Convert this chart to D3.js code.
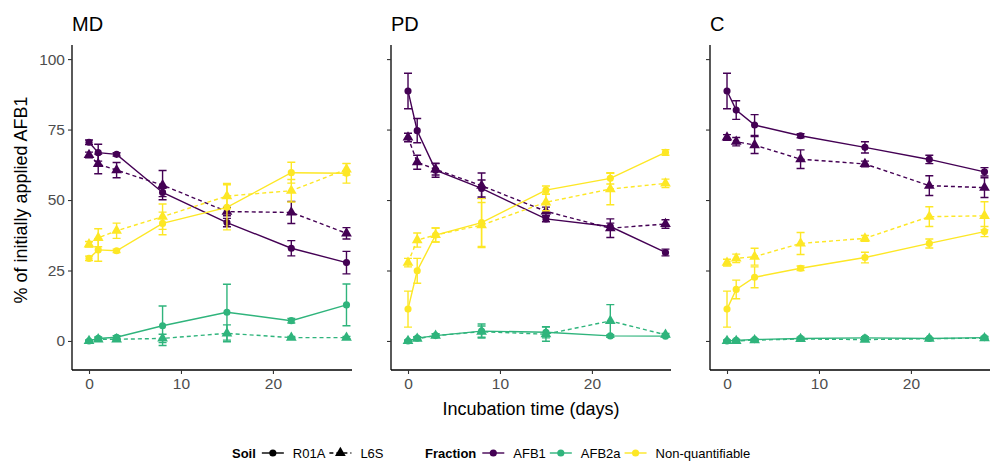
<!DOCTYPE html>
<html>
<head>
<meta charset="utf-8">
<script src="https://cdn.jsdelivr.net/npm/d3@7"></script>
<style>
  body { margin: 0; background: #fff; }
  text { font-family: "Liberation Sans", Arial, sans-serif; }
</style>
</head>
<body>
<div id="chart"></div>
<script>
// incubation times (days)
var times = [0, 1, 3, 8, 15, 22, 28];
var panels = ["MD", "PD", "C"];
var soils = ["R01A", "L6S"];
var fractions = ["AFB1", "AFB2a", "Non-quantifiable"];
var fractionColors = ["#440154", "#2FB47C", "#FDE725"];

// mean values per panel / fraction / soil
var mdAFB1_R01A = [70.5, 66.8, 66.2, 52.7, 42.0, 32.9, 27.8];
var mdAFB1_L6S  = [66.0, 62.8, 60.6, 55.3, 45.9, 45.6, 38.2];
var mdAFB2a_R01A = [0.0, 0.9, 1.3, 5.4, 10.2, 7.2, 12.8];
var mdAFB2a_L6S  = [0.0, 0.6, 0.6, 0.9, 2.7, 1.2, 1.2];
var mdNQ_R01A = [29.3, 32.3, 32.0, 41.7, 47.4, 59.7, 59.5];
var mdNQ_L6S  = [34.3, 36.6, 39.1, 44.1, 51.4, 53.3, 60.9];

var pdAFB1_R01A = [88.7, 74.6, 60.6, 54.1, 43.3, 40.6, 31.4];
var pdAFB1_L6S  = [72.2, 63.4, 60.9, 55.1, 46.0, 40.0, 41.5];
var pdAFB2a_R01A = [0.0, 1.0, 1.9, 3.5, 3.1, 1.8, 1.7];
var pdAFB2a_L6S  = [0.0, 0.8, 1.9, 3.3, 2.4, 7.1, 2.2];
var pdNQ_R01A = [11.3, 24.9, 37.6, 42.0, 53.5, 57.7, 66.9];
var pdNQ_L6S  = [27.8, 35.8, 37.6, 41.1, 49.2, 53.9, 55.9];

var cAFB1_R01A = [88.7, 81.9, 76.6, 72.8, 68.7, 64.4, 60.0];
var cAFB1_L6S  = [72.2, 70.7, 69.5, 64.5, 62.8, 55.1, 54.4];
var cAFB2a_R01A = [0.0, 0.2, 0.5, 0.9, 1.1, 0.9, 1.2];
var cAFB2a_L6S  = [0.0, 0.0, 0.3, 0.7, 0.5, 0.8, 1.0];
var cNQ_R01A = [11.3, 18.3, 22.6, 25.8, 29.6, 34.6, 38.8];
var cNQ_L6S  = [27.8, 29.3, 29.9, 34.6, 36.4, 44.1, 44.4];

// standard deviations, same order
var mdAFB1_R01A_sd = [0.8, 3.0, 0.6, 1.5, 1.5, 2.7, 4.0];
var mdAFB1_L6S_sd  = [1.0, 3.5, 2.7, 5.2, 1.5, 3.9, 2.0];
var mdAFB2a_R01A_sd = [0.3, 0.5, 0.6, 7.0, 9.9, 0.8, 7.4];
var mdAFB2a_L6S_sd  = [0.3, 0.4, 0.4, 1.5, 3.0, 0.4, 0.4];
var mdNQ_R01A_sd = [0.8, 4.0, 0.6, 4.0, 8.0, 3.7, 3.5];
var mdNQ_L6S_sd  = [1.0, 3.2, 2.7, 4.5, 4.5, 4.0, 2.0];

var pdAFB1_R01A_sd = [6.3, 4.3, 2.5, 3.0, 1.0, 1.2, 1.2];
var pdAFB1_L6S_sd  = [1.5, 2.5, 2.0, 4.5, 1.5, 3.3, 1.5];
var pdAFB2a_R01A_sd = [0.3, 0.5, 0.6, 2.5, 2.0, 0.4, 0.4];
var pdAFB2a_L6S_sd  = [0.3, 0.5, 0.6, 2.0, 2.5, 5.8, 0.5];
var pdNQ_R01A_sd = [6.4, 4.4, 2.5, 8.5, 1.5, 2.0, 1.0];
var pdNQ_L6S_sd  = [1.5, 2.5, 2.5, 8.0, 3.0, 5.6, 1.5];

var cAFB1_R01A_sd = [6.3, 3.3, 3.7, 0.7, 2.0, 1.5, 1.5];
var cAFB1_L6S_sd  = [1.0, 1.5, 3.0, 3.3, 1.0, 3.5, 3.5];
var cAFB2a_R01A_sd = [0.3, 0.3, 0.3, 0.4, 0.4, 0.3, 0.4];
var cAFB2a_L6S_sd  = [0.3, 0.3, 0.3, 0.3, 0.3, 0.3, 0.3];
var cNQ_R01A_sd = [6.4, 3.3, 3.7, 0.8, 1.9, 1.6, 1.8];
var cNQ_L6S_sd  = [1.2, 1.5, 3.0, 3.9, 1.0, 3.5, 5.0];

var yTicks = [0, 25, 50, 75, 100];
var xTicks = [0, 10, 20];

var series = [
  ["MD", "AFB1", "R01A", mdAFB1_R01A, mdAFB1_R01A_sd],
  ["MD", "AFB1", "L6S", mdAFB1_L6S, mdAFB1_L6S_sd],
  ["MD", "AFB2a", "R01A", mdAFB2a_R01A, mdAFB2a_R01A_sd],
  ["MD", "AFB2a", "L6S", mdAFB2a_L6S, mdAFB2a_L6S_sd],
  ["MD", "Non-quantifiable", "R01A", mdNQ_R01A, mdNQ_R01A_sd],
  ["MD", "Non-quantifiable", "L6S", mdNQ_L6S, mdNQ_L6S_sd],
  ["PD", "AFB1", "R01A", pdAFB1_R01A, pdAFB1_R01A_sd],
  ["PD", "AFB1", "L6S", pdAFB1_L6S, pdAFB1_L6S_sd],
  ["PD", "AFB2a", "R01A", pdAFB2a_R01A, pdAFB2a_R01A_sd],
  ["PD", "AFB2a", "L6S", pdAFB2a_L6S, pdAFB2a_L6S_sd],
  ["PD", "Non-quantifiable", "R01A", pdNQ_R01A, pdNQ_R01A_sd],
  ["PD", "Non-quantifiable", "L6S", pdNQ_L6S, pdNQ_L6S_sd],
  ["C", "AFB1", "R01A", cAFB1_R01A, cAFB1_R01A_sd],
  ["C", "AFB1", "L6S", cAFB1_L6S, cAFB1_L6S_sd],
  ["C", "AFB2a", "R01A", cAFB2a_R01A, cAFB2a_R01A_sd],
  ["C", "AFB2a", "L6S", cAFB2a_L6S, cAFB2a_L6S_sd],
  ["C", "Non-quantifiable", "R01A", cNQ_R01A, cNQ_R01A_sd],
  ["C", "Non-quantifiable", "L6S", cNQ_L6S, cNQ_L6S_sd]
].map(function(s) {
  return {panel: s[0], fraction: s[1], soil: s[2],
          points: times.map(function(t, i) { return {t: t, v: s[3][i], sd: s[4][i]}; })};
});

var W = 992, H = 462;
var margin = {top: 45, bottom: 92, left: 72},
    panelW = 280, panelStep = 319,
    height = H - margin.top - margin.bottom;

var color = d3.scaleOrdinal().domain(fractions).range(fractionColors);
var x = d3.scaleLinear().domain([-1.85, 28.6]).range([0, panelW]);
var y = d3.scaleLinear().domain([-10.3, 105]).range([height, 0]);
var line = d3.line().x(function(d) { return x(d.t); }).y(function(d) { return y(d.v); });
var tri = d3.symbol().type(d3.symbolTriangle).size(50);
var circ = d3.symbol().type(d3.symbolCircle).size(40);

var svg = d3.select("#chart").append("svg")
    .attr("width", W).attr("height", H);

panels.forEach(function(p, pi) {
  var g = svg.append("g")
      .attr("transform", "translate(" + (margin.left + pi * panelStep) + "," + margin.top + ")");

  g.append("text").attr("x", 0).attr("y", -14)
      .attr("font-size", 20).attr("fill", "#000").text(p);

  var yAxis = g.append("g")
      .call(d3.axisLeft(y).tickValues(yTicks).tickSize(4).tickPadding(3).tickFormat(pi === 0 ? d3.format("d") : ""));
  var xAxis = g.append("g").attr("transform", "translate(0," + height + ")")
      .call(d3.axisBottom(x).tickValues(xTicks).tickSize(4).tickPadding(4));
  [yAxis, xAxis].forEach(function(a) {
    a.select(".domain").attr("stroke", "#000").attr("stroke-width", 1.3);
    a.selectAll(".tick line").attr("stroke", "#333").attr("stroke-width", 1.1);
    a.selectAll(".tick text").attr("font-size", 15.5).attr("fill", "#4d4d4d")
        .style("font-family", "Liberation Sans, Arial, sans-serif");
  });
  // axis lines without end ticks
  yAxis.select(".domain").attr("d", "M0," + height + "V0");
  xAxis.select(".domain").attr("d", "M0,0H" + panelW);

  var ps = series.filter(function(s) { return s.panel === p; });
  var sg = g.selectAll(".series").data(ps).enter().append("g").attr("class", "series");

  sg.append("path")
      .attr("d", function(s) { return line(s.points); })
      .attr("fill", "none")
      .attr("stroke", function(s) { return color(s.fraction); })
      .attr("stroke-width", 1.4)
      .attr("stroke-dasharray", function(s) { return s.soil === "L6S" ? "4,3" : null; });

  // error bars
  sg.selectAll(".err").data(function(s) {
    return s.points.map(function(d) { return {t: d.t, v: d.v, sd: d.sd, c: color(s.fraction)}; });
  }).enter().append("path")
      .attr("d", function(d) {
        var x0 = x(d.t), y1 = y(d.v + d.sd), y0 = y(d.v - d.sd), w = 4;
        return "M" + (x0 - w) + "," + y1 + "H" + (x0 + w) + "M" + x0 + "," + y1 + "V" + y0 +
               "M" + (x0 - w) + "," + y0 + "H" + (x0 + w);
      })
      .attr("fill", "none").attr("stroke", function(d) { return d.c; }).attr("stroke-width", 1.4);

  sg.selectAll(".pt").data(function(s) {
    return s.points.map(function(d) { return {t: d.t, v: d.v, soil: s.soil, c: color(s.fraction)}; });
  }).enter().append("path")
      .attr("transform", function(d) { return "translate(" + x(d.t) + "," + y(d.v) + ")"; })
      .attr("d", function(d) { return d.soil === "L6S" ? tri() : circ(); })
      .attr("fill", function(d) { return d.c; });
});

// axis titles
svg.append("text")
    .attr("x", margin.left + panelStep + panelW / 2).attr("y", 415)
    .attr("text-anchor", "middle").attr("font-size", 18).attr("fill", "#000")
    .text("Incubation time (days)");
svg.append("text")
    .attr("transform", "translate(27," + (margin.top + y(50)) + ") rotate(-90)")
    .attr("text-anchor", "middle").attr("font-size", 18).attr("fill", "#000")
    .text("% of initially applied AFB1");

// legend
var leg = svg.append("g").attr("transform", "translate(232,458)");
var cx = 0;
function legTitle(t) {
  var el = leg.append("text").attr("x", cx).attr("y", 0).attr("font-size", 13)
      .attr("font-weight", "bold").text(t);
  cx += el.node().getComputedTextLength() + 6;
}
function legItem(label, c, soil) {
  leg.append("line").attr("x1", cx).attr("x2", cx + 22).attr("y1", -5).attr("y2", -5)
      .attr("stroke", c).attr("stroke-width", 1.4)
      .attr("stroke-dasharray", soil === "L6S" ? "4,3" : null);
  leg.append("path").attr("transform", "translate(" + (cx + 11) + ",-5)")
      .attr("d", soil === "L6S" ? tri() : circ()).attr("fill", c);
  cx += 31;
  var el = leg.append("text").attr("x", cx).attr("y", 0).attr("font-size", 13)
      .attr("fill", "#000").text(label);
  cx += el.node().getComputedTextLength() + 4;
}
legTitle("Soil");
soils.forEach(function(s) { legItem(s, "#000", s); });
cx = 193;
legTitle("Fraction");
fractions.forEach(function(f) { legItem(f, color(f), "R01A"); });
</script>
</body>
</html>
